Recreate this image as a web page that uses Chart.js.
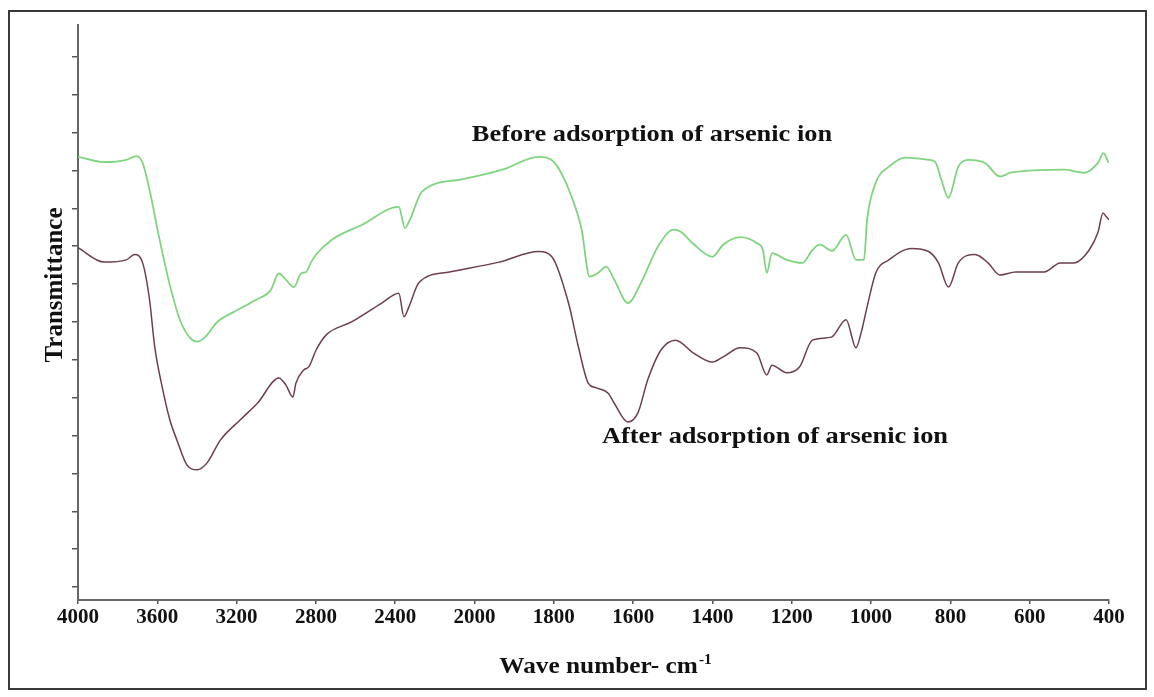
<!DOCTYPE html>
<html>
<head>
<meta charset="utf-8">
<script src="https://cdn.jsdelivr.net/npm/chart.js@4.4.1/dist/chart.umd.min.js"></script>
<style>
  html, body { margin: 0; padding: 0; background: #fff; }
  #wrap { position: relative; width: 1154px; height: 697px; }
  #frame {
    position: absolute; left: 8px; top: 10px; width: 1139px; height: 680px;
    border: 2px solid #3a3a3a; box-sizing: border-box; pointer-events: none;
  }
  canvas { position: absolute; left: 0; top: 0; }
</style>
</head>
<body>
<div id="wrap">
  <canvas id="ftirChart" width="1154" height="697"></canvas>
  <div id="frame"></div>
</div>
<script>
// x tick labels (wave number, cm-1) - the axis changes scale at 2000
const xTickLabels = ["4000", "3600", "3200", "2800", "2400", "2000", "1800",
  "1600", "1400", "1200", "1000", "800", "600", "400"];
// unlabeled y ticks (arbitrary transmittance units)
const yTickValues = [5, 10, 15, 20, 25, 30, 35, 40, 45, 50, 55, 60, 65, 70, 75];

// Before adsorption (green)
const beforeWave = [4000, 3868, 3756, 3705, 3674, 3639, 3588, 3537, 3486, 3435,
  3400, 3359, 3298, 3216, 3104, 3028, 2987, 2952, 2911, 2875,
  2850, 2824, 2799, 2723, 2570, 2382, 2351, 2326, 2265, 2071,
  1930, 1838, 1798, 1755, 1730, 1710, 1688, 1668, 1648, 1613,
  1580, 1538, 1498, 1480, 1450, 1400, 1373, 1330, 1288, 1273,
  1263, 1250, 1213, 1173, 1148, 1130, 1098, 1063, 1038, 1018,
  1010, 988, 955, 913, 855, 838, 823, 805, 780, 755,
  713, 675, 648, 513, 463, 428, 414, 401];
const beforeT = [61.8, 61.1, 61.4, 61.9, 61.0, 57.4, 50.8, 44.9, 40.3, 37.9,
  37.4, 38.0, 40.0, 41.3, 42.9, 44.2, 46.4, 45.6, 44.6, 46.4,
  46.6, 47.9, 48.9, 50.8, 52.8, 55.2, 52.4, 53.5, 57.2, 58.8,
  60.1, 61.8, 61.0, 56.5, 52.2, 46.0, 46.5, 47.3, 45.6, 42.5,
  45.2, 49.9, 52.2, 51.9, 50.4, 48.6, 50.2, 51.2, 50.4, 49.5,
  46.5, 49.1, 48.2, 47.8, 49.5, 50.2, 49.4, 51.5, 48.2, 48.2,
  53.5, 58.4, 60.5, 61.7, 61.4, 61.1, 58.8, 56.4, 60.5, 61.4,
  61.0, 59.2, 59.7, 60.1, 59.7, 61.0, 62.3, 61.0];

// After adsorption (purple)
const afterWave = [4000, 3868, 3756, 3715, 3674, 3639, 3613, 3572, 3537, 3501,
  3450, 3400, 3349, 3282, 3181, 3094, 2987, 2952, 2916, 2901,
  2860, 2835, 2799, 2748, 2621, 2468, 2382, 2356, 2331, 2280,
  2127, 1938, 1838, 1805, 1763, 1738, 1713, 1693, 1663, 1648,
  1613, 1588, 1563, 1530, 1493, 1448, 1400, 1373, 1330, 1288,
  1263, 1250, 1213, 1180, 1148, 1100, 1063, 1038, 1025, 1010,
  988, 955, 898, 855, 830, 805, 780, 738, 705, 675,
  635, 563, 523, 488, 450, 428, 415, 407, 400];
const afterT = [49.8, 47.9, 48.2, 48.9, 47.8, 42.9, 36.7, 31.0, 27.1, 24.4,
  21.1, 20.5, 21.4, 24.4, 27.1, 29.3, 32.6, 31.7, 30.1, 31.9,
  33.7, 34.1, 36.3, 38.3, 40.0, 42.5, 43.8, 40.7, 42.0, 45.2,
  46.6, 47.9, 49.3, 48.6, 42.5, 36.7, 31.9, 31.3, 30.6, 29.3,
  26.8, 28.0, 32.4, 36.3, 37.6, 35.9, 34.7, 35.4, 36.6, 35.9,
  33.0, 34.3, 33.3, 34.1, 37.6, 38.0, 40.3, 36.6, 38.6, 42.0,
  46.5, 48.2, 49.7, 49.3, 47.8, 44.6, 47.8, 48.9, 47.8, 46.2,
  46.6, 46.6, 47.8, 47.8, 49.5, 51.8, 54.4, 53.9, 53.5];

// axis position: 400 cm-1 per step above 2000, 200 cm-1 per step below
function toAxis(w) {
  return w >= 2000 ? (4000 - w) / 400 : 5 + (2000 - w) / 200;
}
function toPoints(waves, values) {
  return waves.map((w, i) => ({ x: toAxis(w), y: values[i] }));
}

const serif = "'Liberation Serif', 'Times New Roman', serif";

// labels drawn on the canvas (annotations + axis titles)
const textPlugin = {
  id: "ftirText",
  afterDraw(chart) {
    const ctx = chart.ctx;
    ctx.save();
    ctx.fillStyle = "#111";
    ctx.textBaseline = "alphabetic";

    function stretched(text, cx, y, size) {
      ctx.save();
      ctx.font = "bold " + size + "px " + serif;
      ctx.textAlign = "center";
      ctx.translate(cx, y);
      ctx.scale(1.1, 1);
      ctx.fillText(text, 0, 0);
      ctx.restore();
    }
    stretched("Before adsorption of arsenic ion", 652, 141, 24);
    stretched("After adsorption of arsenic ion", 775, 443, 24);

    // x title with superscript
    ctx.save();
    ctx.font = "bold 23px " + serif;
    const main = "Wave number- cm";
    const mainW = ctx.measureText(main).width * 1.1;
    ctx.font = "bold 14px " + serif;
    const supW = ctx.measureText("-1").width * 1.1;
    const startX = 605 - (mainW + supW) / 2;
    ctx.translate(startX, 673);
    ctx.scale(1.1, 1);
    ctx.textAlign = "left";
    ctx.font = "bold 23px " + serif;
    ctx.fillText(main, 0, 0);
    ctx.font = "bold 14px " + serif;
    ctx.fillText("-1", mainW / 1.1 + 1, -9);
    ctx.restore();

    // y title
    ctx.save();
    ctx.font = "bold 25px " + serif;
    ctx.textAlign = "center";
    ctx.translate(62, 285);
    ctx.rotate(-Math.PI / 2);
    ctx.fillText("Transmittance", 0, 0);
    ctx.restore();

    ctx.restore();
  }
};

const ctx = document.getElementById("ftirChart").getContext("2d");
new Chart(ctx, {
  type: "line",
  data: {
    datasets: [
      {
        label: "Before adsorption of arsenic ion",
        data: toPoints(beforeWave, beforeT),
        borderColor: "#80d480",
        borderWidth: 1.8,
        pointRadius: 0,
        cubicInterpolationMode: "monotone",
      },
      {
        label: "After adsorption of arsenic ion",
        data: toPoints(afterWave, afterT),
        borderColor: "#6e3d52",
        borderWidth: 1.5,
        pointRadius: 0,
        cubicInterpolationMode: "monotone",
      },
    ],
  },
  options: {
    responsive: false,
    animation: false,
    layout: { padding: { top: 25, right: 45, left: 0, bottom: 0 } },
    plugins: {
      legend: { display: false },
      tooltip: { enabled: false },
    },
    scales: {
      x: {
        type: "linear",
        min: 0,
        max: 13,
        afterBuildTicks: (scale) => {
          scale.ticks = xTickLabels.map((_, i) => ({ value: i }));
        },
        afterFit: (scale) => { scale.height = 97; },
        border: { color: "#666", width: 2 },
        grid: { drawOnChartArea: false, drawTicks: true, tickLength: 4, color: "#555", lineWidth: 1.5 },
        ticks: {
          autoSkip: false,
          maxRotation: 0,
          padding: 1,
          color: "#111",
          font: { family: serif, size: 21, weight: "bold" },
          callback: (value, index) => xTickLabels[index],
        },
      },
      y: {
        type: "linear",
        min: 3.3,
        max: 79.2,
        afterBuildTicks: (scale) => {
          scale.ticks = yTickValues.map((v) => ({ value: v }));
        },
        afterFit: (scale) => { scale.width = 78; },
        border: { color: "#666", width: 2 },
        grid: { drawOnChartArea: false, drawTicks: true, tickLength: 6, color: "#555", lineWidth: 1.5 },
        ticks: { display: false },
      },
    },
  },
  plugins: [textPlugin],
});
</script>
</body>
</html>
